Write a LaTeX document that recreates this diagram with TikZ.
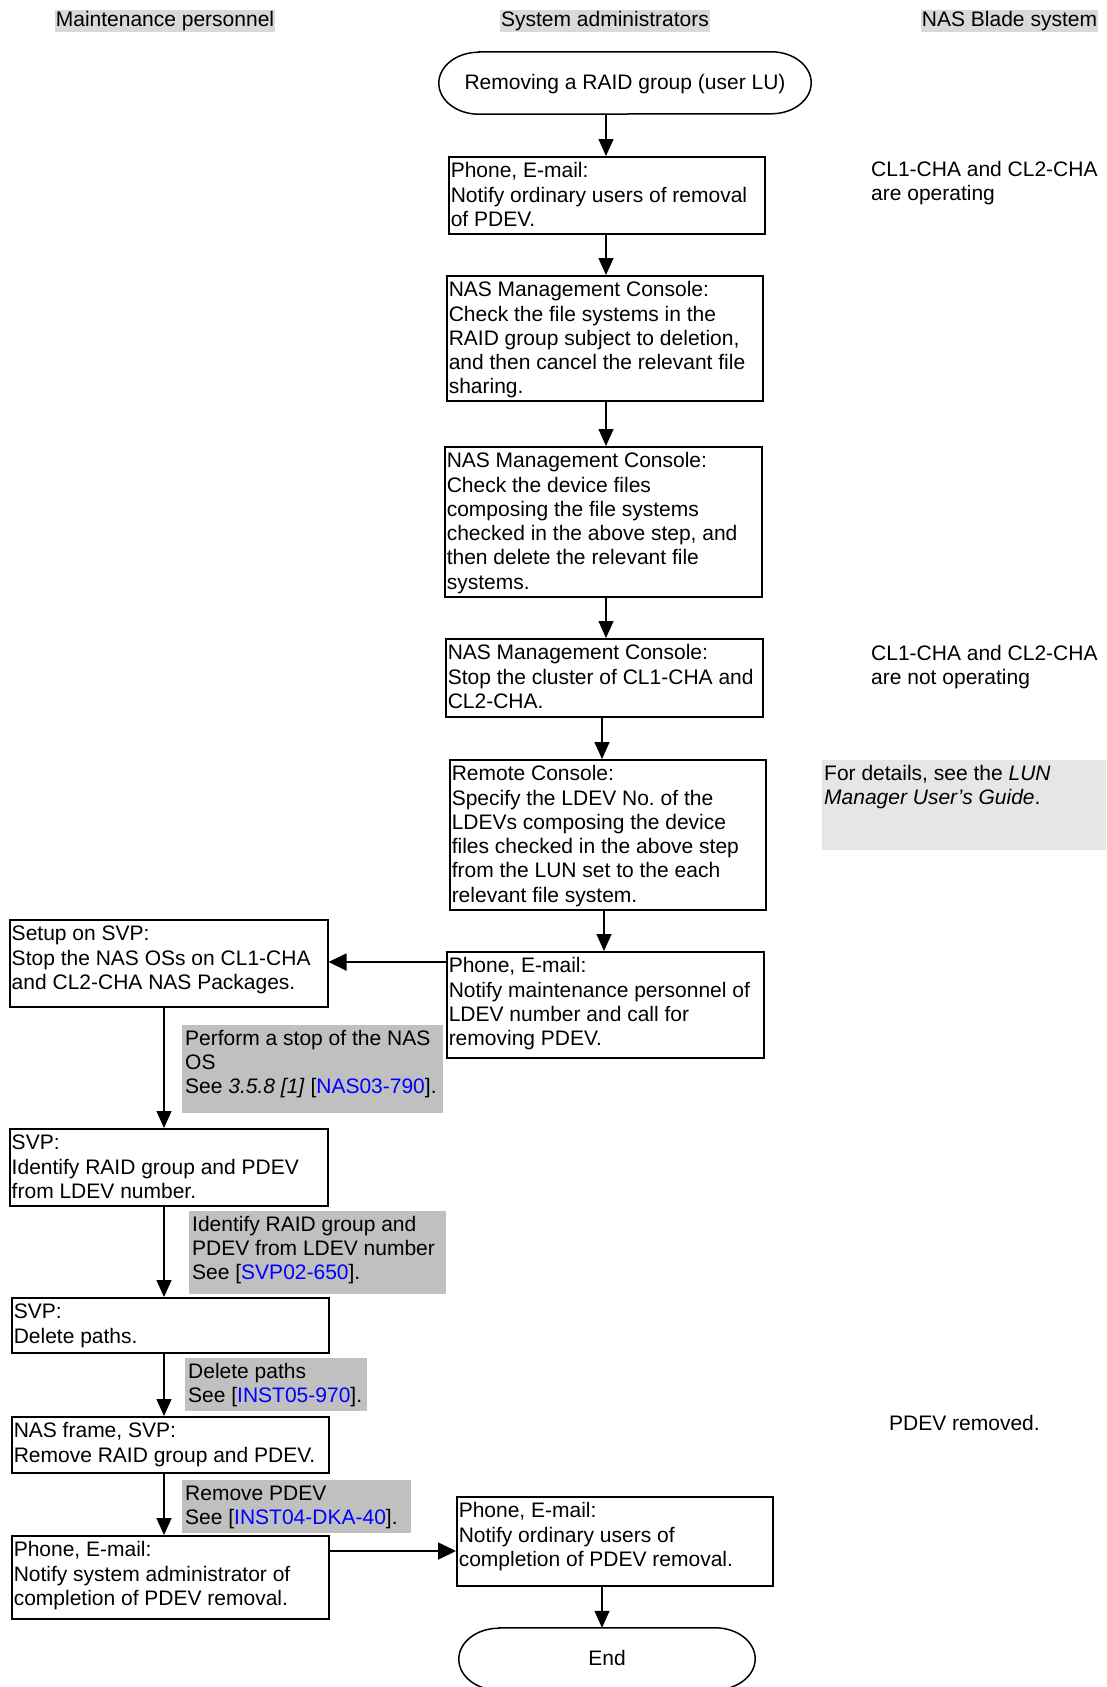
\documentclass[tikz,border=0pt]{standalone}
\usepackage{fontspec}
\setmainfont{Liberation Sans}
\usetikzlibrary{arrows.meta}
\definecolor{hdrgray}{HTML}{D9D9D9}
\definecolor{lblgray}{HTML}{C0C0C0}
\definecolor{notegray}{HTML}{E6E6E6}
\definecolor{linkblue}{HTML}{0000FF}
\newcommand{\pbx}[4]{\parbox[c][#2][t]{#1}{\raggedright\rule{0pt}{#3}#4}}
\newcommand{\lnk}[1]{\textcolor{linkblue}{#1}}
\frenchspacing
\begin{document}
\begin{tikzpicture}[x=1pt,y=-1pt,
 every node/.style={font=\fontsize{21pt}{24.3pt}\selectfont, inner sep=0pt},
 stepbox/.style={draw, line width=1.5pt, anchor=north west, inner xsep=2pt, inner ysep=0pt},
 lbl/.style={fill=lblgray, anchor=north west, inner xsep=3pt, inner ysep=0pt},
 notebox/.style={fill=notegray, anchor=north west, inner xsep=2pt, inner ysep=0pt},
 plain/.style={anchor=north west},
 hdr/.style={fill=hdrgray, inner xsep=1pt, inner ysep=1.5pt},
 termtext/.style={text height=16pt, text depth=3pt},
 termline/.style={line width=1.5pt},
 arr/.style={-{Triangle[length=17pt,width=15pt]}, line width=1.3pt},
 harr/.style={-{Triangle[length=18pt,width=17pt]}, line width=1.8pt}]
\useasboundingbox (0,0) rectangle (1106,1687);

% headers
\node[hdr] (h1) at (165,21) {Maintenance personnel};
\node[hdr] (h2) at (605,21) {System administrators};
\node[hdr] (h3) at (1009.5,21) {NAS Blade system};

% start terminal
\node[minimum width=372pt, minimum height=62pt, termtext] (s) at (625,83) {Removing a RAID group (user LU)};
\draw[termline] ([xshift=40pt]s.north west) -- ([xshift=-40pt]s.north east)
  arc[start angle=90, end angle=-90, x radius=40pt, y radius=31pt]
  -- ([xshift=40pt]s.south west)
  arc[start angle=270, end angle=90, x radius=40pt, y radius=31pt] -- cycle;

% system administrator column
\node[stepbox] (b1) at (448,156) {\pbx{312pt}{77pt}{21pt}{Phone, E-mail:\\Notify ordinary users of removal\\of PDEV.}};
\node[stepbox] (b2) at (446,275) {\pbx{312pt}{125pt}{21pt}{NAS Management Console:\\Check the file systems in the\\RAID group subject to deletion,\\and then cancel the relevant file\\sharing.}};
\node[stepbox] (b3) at (444,446) {\pbx{313pt}{150pt}{21pt}{NAS Management Console:\\Check the device files\\composing the file systems\\checked in the above step, and\\then delete the relevant file\\systems.}};
\node[stepbox] (b4) at (445,638) {\pbx{313pt}{78pt}{21pt}{NAS Management Console:\\Stop the cluster of CL1-CHA and\\CL2-CHA.}};
\node[stepbox] (b5) at (449,759) {\pbx{312pt}{150pt}{21pt}{Remote Console:\\Specify the LDEV No. of the\\LDEVs composing the device\\files checked in the above step\\from the LUN set to the each\\relevant file system.}};
\node[stepbox] (b6) at (446,951) {\pbx{313pt}{106pt}{21pt}{Phone, E-mail:\\Notify maintenance personnel of\\LDEV number and call for\\removing PDEV.}};
\node[stepbox] (b7) at (456,1496) {\pbx{312pt}{89pt}{21pt}{Phone, E-mail:\\Notify ordinary users of\\completion of PDEV removal.}};

% maintenance column
\node[stepbox] (m1) at (9,919) {\pbx{314pt}{87pt}{21pt}{Setup on SVP:\\Stop the NAS OSs on CL1-CHA\\and CL2-CHA NAS Packages.}};
\node[stepbox] (m2) at (9,1128) {\pbx{314pt}{77pt}{21pt}{SVP:\\Identify RAID group and PDEV\\from LDEV number.}};
\node[stepbox] (m3) at (11,1297) {\pbx{313pt}{55pt}{21pt}{SVP:\\Delete paths.}};
\node[stepbox] (m4) at (11,1416) {\pbx{313pt}{56pt}{21pt}{NAS frame, SVP:\\Remove RAID group and PDEV.}};
\node[stepbox] (m5) at (11,1535) {\pbx{313pt}{83pt}{21pt}{Phone, E-mail:\\Notify system administrator of\\completion of PDEV removal.}};

% grey labels
\node[lbl] (g1) at (182,1025) {\pbx{255pt}{88pt}{20pt}{Perform a stop of the NAS\\OS\\See \textit{3.5.8 [1]} [\lnk{NAS03-790}].}};
\node[lbl] (g2) at (189,1211) {\pbx{251pt}{83pt}{20pt}{Identify RAID group and\\PDEV from LDEV number\\See [\lnk{SVP02-650}].}};
\node[lbl] (g3) at (185,1358) {\pbx{176pt}{53pt}{20pt}{Delete paths\\See [\lnk{INST05-970}].}};
\node[lbl] (g4) at (182,1480) {\pbx{223pt}{53pt}{20pt}{Remove PDEV\\See [\lnk{INST04-DKA-40}].}};
\node[notebox] (n1) at (822,760) {\pbx{280pt}{90pt}{20pt}{For details, see the \textit{LUN}\\\textit{Manager User's Guide}.}};

% NAS Blade system status texts
\node[plain] (t1) at (871,155) {\pbx{234pt}{50pt}{21pt}{CL1-CHA and CL2-CHA\\are operating}};
\node[plain] (t2) at (871,639) {\pbx{234pt}{50pt}{21pt}{CL1-CHA and CL2-CHA\\are not operating}};
\node[plain] (t3) at (889,1409) {\pbx{160pt}{26pt}{21pt}{PDEV removed.}};

% end terminal
\node[minimum width=296pt, minimum height=62pt, termtext] (e) at (607,1659) {End};
\draw[termline] ([xshift=40pt]e.north west) -- ([xshift=-40pt]e.north east)
  arc[start angle=90, end angle=-90, x radius=40pt, y radius=31pt]
  -- ([xshift=40pt]e.south west)
  arc[start angle=270, end angle=90, x radius=40pt, y radius=31pt] -- cycle;

% connectors
\coordinate (spine) at (164,0);
\coordinate (colA) at (606,0);
\coordinate (colB) at (602,0);
\coordinate (colC) at (604,0);
\draw[arr] (s.south -| colA) -- (b1.north -| colA);
\draw[arr] (b1.south -| colA) -- (b2.north -| colA);
\draw[arr] (b2.south -| colA) -- (b3.north -| colA);
\draw[arr] (b3.south -| colA) -- (b4.north -| colA);
\draw[arr] (b4.south -| colB) -- (b5.north -| colB);
\draw[arr] (b5.south -| colC) -- (b6.north -| colC);
\draw[harr] ([yshift=-11pt]b6.north west) -- ([yshift=-11pt]b6.north west -| m1.east);
\draw[arr] (m1.south -| spine) -- (m2.north -| spine);
\draw[arr] (m2.south -| spine) -- (m3.north -| spine);
\draw[arr] (m3.south -| spine) -- (m4.north -| spine);
\draw[arr] (m4.south -| spine) -- (m5.north -| spine);
\draw[harr] ([yshift=-16pt]m5.north east) -- ([yshift=-16pt]m5.north east -| b7.west);
\draw[arr] (b7.south -| colB) -- (e.north -| colB);
\end{tikzpicture}
\end{document}
